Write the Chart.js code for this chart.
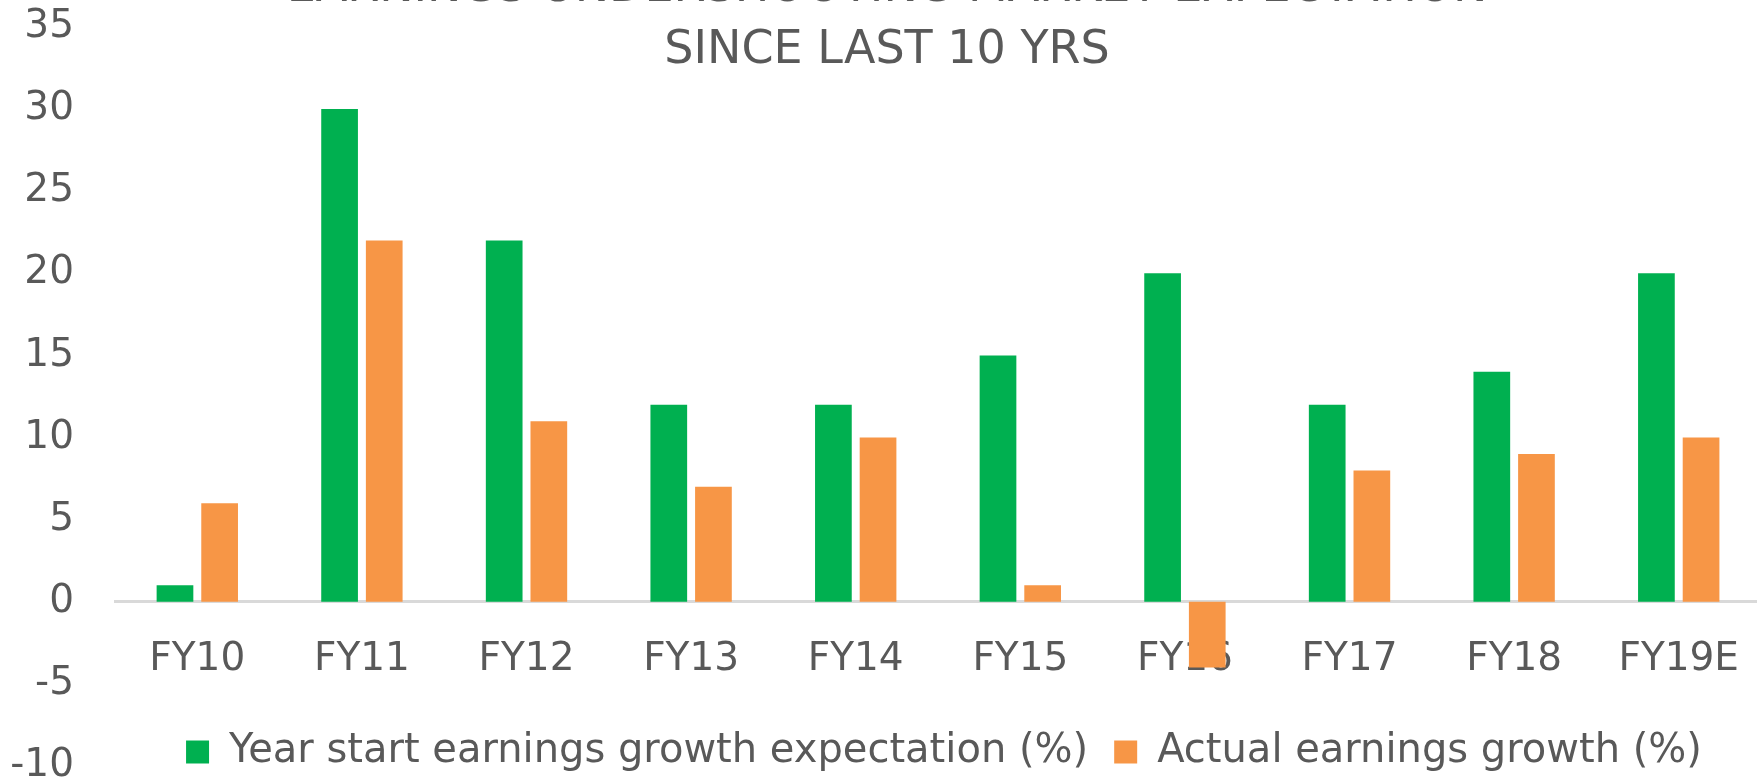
<!DOCTYPE html>
<html>
<head>
<meta charset="utf-8">
<script src="https://cdn.jsdelivr.net/npm/chart.js@4.4.1/dist/chart.umd.min.js"></script>
<style>
  html, body { margin: 0; padding: 0; background: #fff; overflow: hidden; width: 1757px; height: 779px; }
  #wrap { position: absolute; left: 0; top: -42px; width: 1774px; height: 884px; }
</style>
</head>
<body>
<div id="wrap"><canvas id="earningsChart"></canvas></div>
<script>
var years = ['FY10', 'FY11', 'FY12', 'FY13', 'FY14', 'FY15', 'FY16', 'FY17', 'FY18', 'FY19E'];
var expected = [1, 30, 22, 12, 12, 15, 20, 12, 14, 20];
var actual = [6, 22, 11, 7, 10, 1, -4, 8, 9, 10];
var yTicks = [-10, 35, 5]; // min, max, step
var titleLines = ['EARNINGS UNDERSHOOTING MARKET EXPECTATION', 'SINCE LAST 10 YRS'];

Chart.defaults.font.family = "'DejaVu Sans', sans-serif";
Chart.defaults.color = '#595959';

// legend sits over the bottom of the plot in the original, so move it there
const legendMover = {
    id: 'legendMover',
    afterLayout(chart) {
        const lg = chart.legend;
        const dy = 748 - lg.top;
        lg.top += dy;
        lg.bottom += dy;
        lg.left += 57;
        lg.right += 57;
    }
};

const config = {
    type: 'bar',
    data: {
        labels: years,
        datasets: [{
            label: 'Year start earnings growth expectation (%)',
            data: expected,
            backgroundColor: '#00B050'
        }, {
            label: 'Actual earnings growth (%)',
            data: actual,
            backgroundColor: '#F79646'
        }]
    },
    options: {
        responsive: true,
        maintainAspectRatio: false,
        animation: false,
        categoryPercentage: 0.5425,
        barPercentage: 0.822,
        layout: { padding: 0 },
        plugins: {
            title: {
                display: true,
                text: titleLines,
                color: '#595959',
                font: { size: 46, weight: 'normal', lineHeight: 62 / 46 },
                padding: { top: 0, bottom: -55 }
            },
            legend: {
                position: 'bottom',
                labels: {
                    boxWidth: 23,
                    boxHeight: 23,
                    padding: 26,
                    color: '#595959',
                    font: { size: 40 }
                }
            },
            tooltip: { enabled: false }
        },
        scales: {
            x: {
                position: { y: 0 },
                grid: { display: false, drawTicks: false },
                border: { display: true, color: '#D9D9D9', width: 3 },
                ticks: { padding: 35, font: { size: 39 }, color: '#595959', maxRotation: 0 }
            },
            y: {
                min: yTicks[0],
                max: yTicks[1],
                grid: { display: false, drawTicks: false },
                border: { display: false },
                ticks: { stepSize: yTicks[2], padding: 41, font: { size: 39 }, color: '#595959' },
                afterFit: (scale) => { scale.width = 115; }
            }
        }
    },
    plugins: [legendMover]
};

const earningsChart = new Chart('earningsChart', config);
</script>
</body>
</html>
